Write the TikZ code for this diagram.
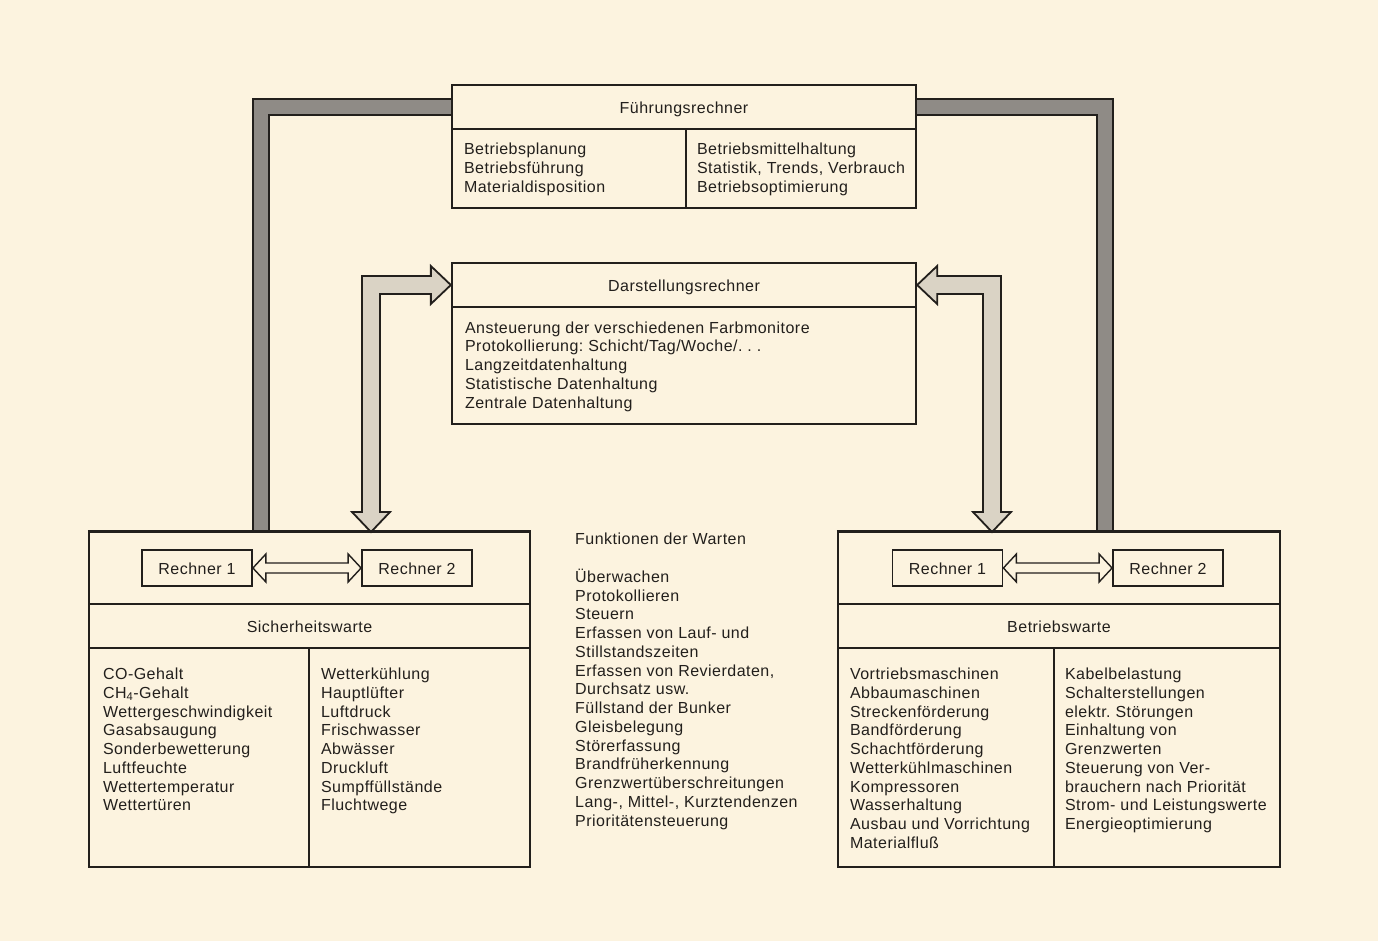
\documentclass[tikz,border=0pt]{standalone}
\usepackage{fontspec}
\setmainfont{Liberation Sans}[LetterSpace=3.0]
\frenchspacing
\usetikzlibrary{calc,positioning}
\definecolor{ruPaper}{HTML}{FCF3DF}
\definecolor{ruInk}{HTML}{221F1C}
\definecolor{ruBus}{HTML}{8F8B86}
\definecolor{ruLink}{HTML}{DAD3C5}
\tikzset{
  onerow/.style={text height=15.5pt, text depth=3.4pt},
  cell/.style={draw=ruInk, line width=2.3pt, inner sep=0pt, text=ruInk, onerow},
  items/.style={align=left, inner sep=0pt, anchor=north west, text=ruInk},
  rbox/.style={draw=ruInk, line width=1.8pt, minimum width=110pt,
              minimum height=36pt, inner sep=0pt, text=ruInk, onerow},
  bus/.style={draw=ruInk, line width=2pt, double=ruBus, double distance=14pt,
              line join=miter},
  link/.style={draw=ruInk, line width=1.8pt, fill=ruLink, line join=miter},
  duplex/.style={draw=ruInk, line width=1.4pt, fill=ruPaper, line join=miter},
}

\begin{document}
\begin{tikzpicture}[x=1pt, y=-1pt, font=\fontsize{16}{18.75}\selectfont]
  \fill[ruPaper] (0,0) rectangle (1378,941);
  \useasboundingbox (0,0) rectangle (1378,941);

  % Fuehrungsrechner
  \node[cell, minimum width=464pt, minimum height=44pt] (frT) at (684,107) {Führungsrechner};
  \node[cell, minimum width=234pt, minimum height=79pt] (frL) at (569,168.5) {};
  \node[cell, minimum width=230pt, minimum height=79pt] (frR) at (801,168.5) {};
  \node[items] (frLi) at ($(frL.north west)+(13,15)$)
    {Betriebsplanung\\Betriebsführung\\Materialdisposition};
  \node[items] (frRi) at ($(frR.north west)+(12,15)$)
    {Betriebsmittelhaltung\\Statistik, Trends, Verbrauch\\Betriebsoptimierung};

  % Darstellungsrechner
  \node[cell, minimum width=464pt, minimum height=44pt] (drT) at (684,285) {Darstellungsrechner};
  \node[cell, minimum width=464pt, minimum height=117pt] (drB) at (684,365.5) {};
  \node[items] (drBi) at ($(drB.north west)+(14,15.5)$)
    {Ansteuerung der verschiedenen Farbmonitore\\
     Protokollierung: Schicht/Tag/Woche/.\ .\ .\\
     Langzeitdatenhaltung\\Statistische Datenhaltung\\Zentrale Datenhaltung};

  % Sicherheitswarte
  \node[cell, minimum width=441pt, minimum height=72pt] (swTop) at (309.5,568) {};
  \node[cell, minimum width=441pt, minimum height=44pt] (swT) at (309.5,626) {Sicherheitswarte};
  \node[cell, minimum width=220pt, minimum height=219pt] (swL) at (199,757.5) {};
  \node[cell, minimum width=221pt, minimum height=219pt] (swR) at (419.5,757.5) {};
  \node[items] (swLi) at ($(swL.north west)+(15,21)$)
    {CO-Gehalt\\CH\textsubscript{4}-Gehalt\\Wettergeschwindigkeit\\Gasabsaugung\\
     Sonderbewetterung\\Luftfeuchte\\Wettertemperatur\\Wettertüren};
  \node[items] (swRi) at ($(swR.north west)+(13,21)$)
    {Wetterkühlung\\Hauptlüfter\\Luftdruck\\Frischwasser\\Abwässer\\
     Druckluft\\Sumpffüllstände\\Fluchtwege};
  \node[rbox] (sr1) at (197,568) {Rechner 1};
  \node[rbox] (sr2) at (417,568) {Rechner 2};

  % Betriebswarte
  \node[cell, minimum width=442pt, minimum height=72pt] (bwTop) at (1059,568) {};
  \node[cell, minimum width=442pt, minimum height=44pt] (bwT) at (1059,626) {Betriebswarte};
  \node[cell, minimum width=216pt, minimum height=219pt] (bwL) at (946,757.5) {};
  \node[cell, minimum width=226pt, minimum height=219pt] (bwR) at (1167,757.5) {};
  \node[items] (bwLi) at ($(bwL.north west)+(13,21)$)
    {Vortriebsmaschinen\\Abbaumaschinen\\Streckenförderung\\Bandförderung\\
     Schachtförderung\\Wetterkühlmaschinen\\Kompressoren\\Wasserhaltung\\
     Ausbau und Vorrichtung\\Materialfluß};
  \node[items] (bwRi) at ($(bwR.north west)+(12,21)$)
    {Kabelbelastung\\Schalterstellungen\\elektr. Störungen\\Einhaltung von\\
     Grenzwerten\\Steuerung von Ver-\\brauchern nach Priorität\\
     Strom- und Leistungswerte\\Energieoptimierung};
  \node[rbox] (br1) at (947.5,568) {Rechner 1};
  \node[rbox] (br2) at (1168,568) {Rechner 2};

  % Funktionen der Warten
  \node[items] (fn) at (575,533)
    {Funktionen der Warten\\[18.75pt]
     Überwachen\\Protokollieren\\Steuern\\Erfassen von Lauf- und\\
     Stillstandszeiten\\Erfassen von Revierdaten,\\Durchsatz usw.\\
     Füllstand der Bunker\\Gleisbelegung\\Störerfassung\\
     Brandfrüherkennung\\Grenzwertüberschreitungen\\
     Lang-, Mittel-, Kurztendenzen\\Prioritätensteuerung};

  % dark bus lines to the Fuehrungsrechner
  \coordinate (busL) at (261,532);
  \coordinate (busR) at (1105,532);
  \draw[bus] (busL) |- (frT.west);
  \draw[bus] (busR) |- (frT.east);

  % light links to the Darstellungsrechner
  \coordinate (tL) at (drT.west);
  \coordinate (tR) at (drT.east);
  \coordinate (dL) at (371,532);
  \coordinate (dR) at (992,532);
  \draw[link] (tL) -- ++(-20,-19) -- ++(0,10) -| ($(dL)+(-9,-20)$) -- ++(-10,0)
    -- (dL) -- ++(19,-20) -- ++(-10,0) |- ($(tL)+(-20,9)$) -- ++(0,10) -- cycle;
  \draw[link] (tR) -- ++(20,-19) -- ++(0,10) -| ($(dR)+(9,-20)$) -- ++(10,0)
    -- (dR) -- ++(-19,-20) -- ++(10,0) |- ($(tR)+(20,9)$) -- ++(0,10) -- cycle;

  % Rechner 1 <-> Rechner 2
  \draw[duplex] (sr1.east) -- ++(13,-14) -- ++(0,9) -- ($(sr2.west)+(-13,-5)$) -- ++(0,-9)
    -- (sr2.west) -- ++(-13,14) -- ++(0,-9) -- ($(sr1.east)+(13,5)$) -- ++(0,9) -- cycle;
  \draw[duplex] (br1.east) -- ++(13,-14) -- ++(0,9) -- ($(br2.west)+(-13,-5)$) -- ++(0,-9)
    -- (br2.west) -- ++(-13,14) -- ++(0,-9) -- ($(br1.east)+(13,5)$) -- ++(0,9) -- cycle;

  % redraw box tops over the link ends
  \draw[cell] (swTop.north west) -- (swTop.north east);
  \draw[cell] (bwTop.north west) -- (bwTop.north east);
\end{tikzpicture}
\end{document}
